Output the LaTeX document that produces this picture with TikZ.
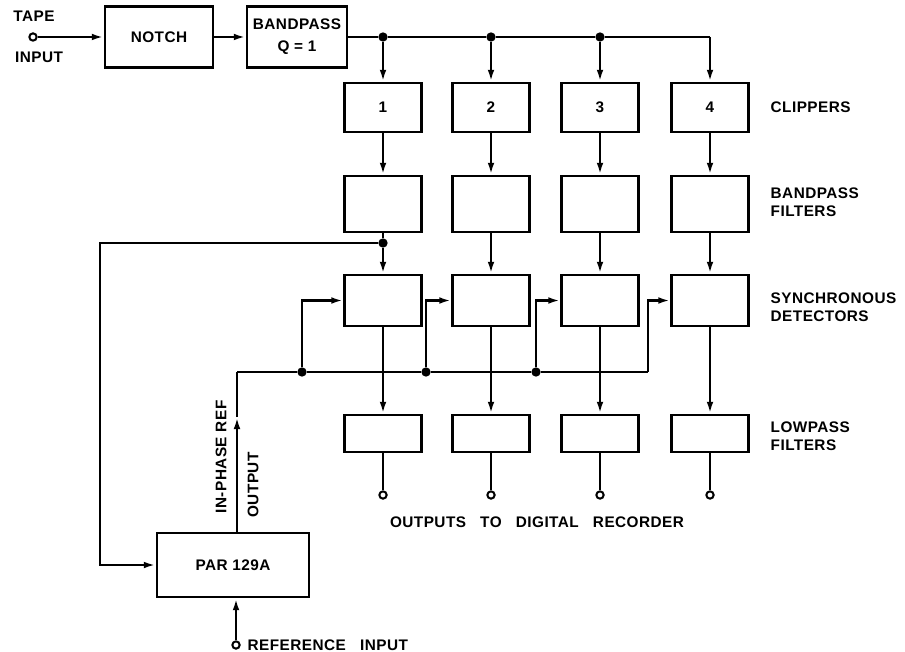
\documentclass[tikz,border=0pt]{standalone}
\usepackage{fontspec}
\setmainfont{Liberation Sans}[LetterSpace=3]
\usetikzlibrary{arrows.meta}
\begin{document}
\begin{tikzpicture}[x=0.75pt,y=-0.75pt,
  every node/.style={font=\fontsize{11.5}{13.5}\selectfont\bfseries},
  wire/.style={line width=1.8pt},
  arr/.style={wire,-{Latex[length=9pt,width=5pt]}},
  blk/.style={draw,line width=1.8pt,rectangle,inner sep=0pt},
  colbox/.style={blk,minimum width=57.75pt},
  jdot/.style={circle,fill,inner sep=0pt,minimum size=7pt},
  term/.style={circle,draw,line width=1.5pt,fill=white,inner sep=0pt,minimum size=5.5pt},
  lbl/.style={anchor=west,align=left}]
\useasboundingbox (0,0) rectangle (905,652);
% top chain
\node[term] (tin) at (33,37) {};
\node (tape) at (34,16) {TAPE};
\node (tinput) at (39,57) {INPUT};
\node[blk,minimum width=81pt,minimum height=45.75pt] (notch) at (159,37) {NOTCH};
\node[blk,minimum width=75pt,minimum height=45.75pt,align=center] (bp) at (297,37) {BANDPASS\\[3pt]Q = 1};
\draw[arr] (tin) -- (notch.west);
\draw[arr] (notch) -- (bp);
% columns
\foreach \i/\x in {1/383,2/491,3/600,4/710}{
  \node[colbox,minimum height=36.75pt] (c\i) at (\x,107.5) {\i};
  \node[colbox,minimum height=42pt] (b\i) at (\x,204) {};
  \node[colbox,minimum height=38.25pt] (s\i) at (\x,300.5) {};
  \node[colbox,minimum height=27.75pt] (l\i) at (\x,433.5) {};
  \node[term] (o\i) at (\x,495) {};
  \draw[arr] (c\i) -- (b\i);
  \draw[arr] (s\i) -- (l\i);
  \draw[wire] (l\i) -- (o\i);
}
\foreach \i in {2,3,4}{\draw[arr] (b\i) -- (s\i);}
% distribution line
\foreach \i in {1,2,3}{\node[jdot] (d\i) at (c\i.north |- bp.east) {};}
\coordinate (k4) at (c4.north |- bp.east);
\draw[wire] (bp.east) -- (d1) -- (d2) -- (d3) -- (k4);
\draw[arr] (k4) -- (c4.north);
\foreach \i in {1,2,3}{\draw[arr] (d\i) -- (c\i.north);}
% feedback into PAR
\node[jdot] (fb) at (383,243) {};
\draw[wire] (b1) -- (fb);
\draw[arr] (fb) -- (s1);
\node[blk,minimum width=114pt,minimum height=48pt] (par) at (233,565) {PAR 129A};
\coordinate (fbl) at (100,243);
\draw[arr] (fb) -- (fbl) |- (par.west);
% reference input
\node[term] (rin) at (236,645) {};
\node[anchor=west] (reftxt) at (243,645) {REFERENCE\ \ \ INPUT};
\draw[arr] (rin) -- (rin |- par.south);
% in-phase ref output and bus
\coordinate (pout) at (237,533);
\coordinate (pmid) at (237,417);
\coordinate (bus0) at (237,372);
\draw[arr] (pout) -- (pmid);
\draw[wire] (pmid) -- (bus0);
\node[jdot] (j1) at (302,372) {};
\node[jdot] (j2) at (426,372) {};
\node[jdot] (j3) at (536,372) {};
\coordinate (j4) at (648,372);
\draw[wire] (bus0) -- (j1) -- (j2) -- (j3) -- (j4);
\foreach \i in {1,2,3,4}{\draw[arr] (j\i) |- (s\i.west);}
\node[rotate=90] (iph) at (221,457) {IN-PHASE REF};
\node[rotate=90] (outp) at (253,485) {OUTPUT};
% labels
\node (otd) at (537,522) {OUTPUTS\ \ \ TO\ \ \ DIGITAL\ \ \ RECORDER};
\node[lbl] (lc) at (766,107) {CLIPPERS};
\node[lbl] (lb) at (766,202) {BANDPASS\\FILTERS};
\node[lbl] (ls) at (766,307) {SYNCHRONOUS\\DETECTORS};
\node[lbl] (ll) at (766,436) {LOWPASS\\FILTERS};
\end{tikzpicture}
\end{document}
